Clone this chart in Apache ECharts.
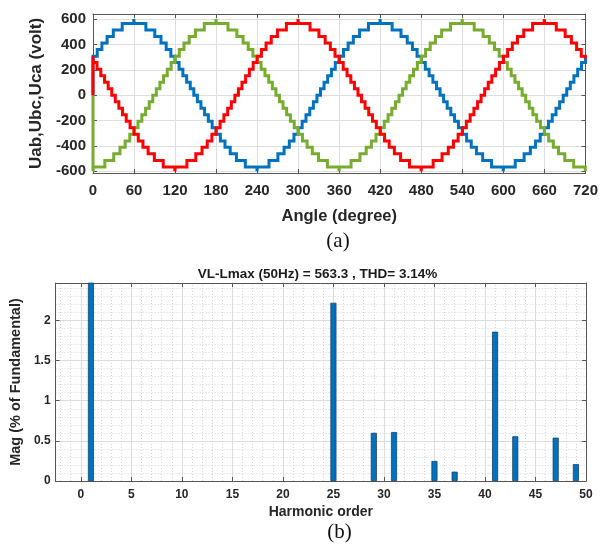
<!DOCTYPE html>
<html>
<head>
<meta charset="utf-8">
<script src="https://cdn.jsdelivr.net/npm/echarts@6/dist/echarts.min.js"></script>
<style>
html,body{margin:0;padding:0;background:#fff;}
#chart{width:601px;height:546px;}
</style>
</head>
<body>
<div id="chart"></div>
<script>
// ---------- Data: (a) line voltages, [angle (deg), volt] step points ----------
const uab = [[0,0],[0,308],[6.2,360],[13.0,411],[20.6,462],[29.7,514],[42.7,565],[59.7,600],[60.3,565],[77.3,514],[90.3,462],[99.4,411],[107.0,360],[113.8,308],[120.0,257],[125.8,205],[131.4,154],[136.9,103],[142.2,51],[147.4,0],[152.6,-51],[157.8,-103],[163.1,-154],[168.6,-205],[174.2,-257],[180.0,-308],[186.2,-360],[193.0,-411],[200.6,-462],[209.7,-514],[222.7,-565],[239.7,-600],[240.3,-565],[257.3,-514],[270.3,-462],[279.4,-411],[287.0,-360],[293.8,-308],[300.0,-257],[305.8,-205],[311.4,-154],[316.9,-103],[322.2,-51],[327.4,0],[332.6,51],[337.8,103],[343.1,154],[348.6,205],[354.2,257],[360.0,308],[366.2,360],[373.0,411],[380.6,462],[389.7,514],[402.7,565],[419.7,600],[420.3,565],[437.3,514],[450.3,462],[459.4,411],[467.0,360],[473.8,308],[480.0,257],[485.8,205],[491.4,154],[496.9,103],[502.2,51],[507.4,0],[512.6,-51],[517.8,-103],[523.1,-154],[528.6,-205],[534.2,-257],[540.0,-308],[546.2,-360],[553.0,-411],[560.6,-462],[569.7,-514],[582.7,-565],[599.7,-600],[600.3,-565],[617.3,-514],[630.3,-462],[639.4,-411],[647.0,-360],[653.8,-308],[660.0,-257],[665.8,-205],[671.4,-154],[676.9,-103],[682.2,-51],[687.4,0],[692.6,51],[697.8,103],[703.1,154],[708.6,205],[714.2,257],[720,308]];
const ubc = [[0,0],[0,-600],[0.6,-565],[17.3,-514],[30.3,-462],[39.4,-411],[47.0,-360],[53.8,-308],[60.0,-257],[65.8,-205],[71.4,-154],[76.9,-103],[82.2,-51],[87.4,0],[92.6,51],[97.8,103],[103.1,154],[108.6,205],[114.2,257],[120.0,308],[126.2,360],[133.0,411],[140.6,462],[149.7,514],[162.7,565],[179.7,600],[180.3,565],[197.3,514],[210.3,462],[219.4,411],[227.0,360],[233.8,308],[240.0,257],[245.8,205],[251.4,154],[256.9,103],[262.2,51],[267.4,0],[272.6,-51],[277.8,-103],[283.1,-154],[288.6,-205],[294.2,-257],[300.0,-308],[306.2,-360],[313.0,-411],[320.6,-462],[329.7,-514],[342.7,-565],[359.7,-600],[360.3,-565],[377.3,-514],[390.3,-462],[399.4,-411],[407.0,-360],[413.8,-308],[420.0,-257],[425.8,-205],[431.4,-154],[436.9,-103],[442.2,-51],[447.4,0],[452.6,51],[457.8,103],[463.1,154],[468.6,205],[474.2,257],[480.0,308],[486.2,360],[493.0,411],[500.6,462],[509.7,514],[522.7,565],[539.7,600],[540.3,565],[557.3,514],[570.3,462],[579.4,411],[587.0,360],[593.8,308],[600.0,257],[605.8,205],[611.4,154],[616.9,103],[622.2,51],[627.4,0],[632.6,-51],[637.8,-103],[643.1,-154],[648.6,-205],[654.2,-257],[660.0,-308],[666.2,-360],[673.0,-411],[680.6,-462],[689.7,-514],[702.7,-565],[719.7,-600],[720,-600]];
const uca = [[0,0],[0,308],[0.6,257],[5.8,205],[11.4,154],[16.9,103],[22.2,51],[27.4,0],[32.6,-51],[37.8,-103],[43.1,-154],[48.6,-205],[54.2,-257],[60.0,-308],[66.2,-360],[73.0,-411],[80.6,-462],[89.7,-514],[102.7,-565],[119.7,-600],[120.3,-565],[137.3,-514],[150.3,-462],[159.4,-411],[167.0,-360],[173.8,-308],[180.0,-257],[185.8,-205],[191.4,-154],[196.9,-103],[202.2,-51],[207.4,0],[212.6,51],[217.8,103],[223.1,154],[228.6,205],[234.2,257],[240.0,308],[246.2,360],[253.0,411],[260.6,462],[269.7,514],[282.7,565],[299.7,600],[300.3,565],[317.3,514],[330.3,462],[339.4,411],[347.0,360],[353.8,308],[360.0,257],[365.8,205],[371.4,154],[376.9,103],[382.2,51],[387.4,0],[392.6,-51],[397.8,-103],[403.1,-154],[408.6,-205],[414.2,-257],[420.0,-308],[426.2,-360],[433.0,-411],[440.6,-462],[449.7,-514],[462.7,-565],[479.7,-600],[480.3,-565],[497.3,-514],[510.3,-462],[519.4,-411],[527.0,-360],[533.8,-308],[540.0,-257],[545.8,-205],[551.4,-154],[556.9,-103],[562.2,-51],[567.4,0],[572.6,51],[577.8,103],[583.1,154],[588.6,205],[594.2,257],[600.0,308],[606.2,360],[613.0,411],[620.6,462],[629.7,514],[642.7,565],[659.7,600],[660.3,565],[677.3,514],[690.3,462],[699.4,411],[707.0,360],[713.8,308],[719.7,287],[720,287]];
const voltTicks = [-600,-400,-200,0,200,400,600];

// ---------- Data: (b) harmonic spectrum ----------
const harmonicOrder = [1,25,29,31,35,37,41,43,47,49];
const harmonicMag   = [100,2.22,0.60,0.61,0.25,0.116,1.86,0.557,0.54,0.21];
const harmonicTicks = [0,5,10,15,20,25,30,35,40,45,50];
const magTicks = [0,0.5,1,1.5,2];
const titleB = 'VL-Lmax (50Hz) = 563.3 , THD= 3.14%';

// ---------- helpers ----------
const SANS = '"Liberation Sans", Arial, Helvetica, sans-serif';
const TXT = '#262626';
const AX = '#555555';
const barData = harmonicOrder.map((h, i) => [h, harmonicMag[i]]);

const minorX = [];
for (let v = -2; v <= 49; v++) if (v % 5 !== 0) minorX.push({ xAxis: v });
const minorY = [];
for (let k = 1; k <= 24; k++) if (k % 5 !== 0) minorY.push({ yAxis: k / 10 });

const chart = echarts.init(document.getElementById('chart'), null, { renderer: 'canvas' });

const axisLineStyle = { show: true, onZero: false, lineStyle: { color: AX, width: 1 } };
const tickIn = { show: true, inside: true, length: 4, lineStyle: { color: AX } };

chart.setOption({
  animation: false,
  backgroundColor: '#ffffff',
  grid: [
    { left: 93, top: 14, right: 11, bottom: 373 },
    { left: 49, top: 283, right: 15, bottom: 65 }
  ],
  xAxis: [
    {
      gridIndex: 0, type: 'value', min: 0, max: 720, interval: 60, position: 'bottom',
      axisLine: axisLineStyle, axisTick: tickIn,
      axisLabel: { margin: 10, color: TXT, fontFamily: SANS, fontWeight: 'bold', fontSize: 15 },
      splitLine: { show: true, lineStyle: { color: '#dedede', width: 1 } },
      name: 'Angle (degree)', nameLocation: 'middle', nameGap: 35,
      nameTextStyle: { color: TXT, fontFamily: SANS, fontWeight: 'bold', fontSize: 16.5 }
    },
    {
      gridIndex: 0, type: 'value', min: 0, max: 720, interval: 60, position: 'top',
      axisLine: axisLineStyle, axisTick: tickIn, axisLabel: { show: false }, splitLine: { show: false }
    },
    {
      gridIndex: 1, type: 'value', min: -2.5, max: 50, position: 'bottom',
      axisLine: axisLineStyle,
      axisTick: { show: true, inside: true, length: 4, lineStyle: { color: AX }, customValues: harmonicTicks },
      axisLabel: { margin: 8, color: TXT, fontFamily: SANS, fontWeight: 'bold', fontSize: 12, customValues: harmonicTicks },
      splitLine: { show: true, lineStyle: { color: '#dcdcdc', width: 1 } },
      name: 'Harmonic order', nameLocation: 'middle', nameGap: 24,
      nameTextStyle: { color: TXT, fontFamily: SANS, fontWeight: 'bold', fontSize: 14 }
    },
    {
      gridIndex: 1, type: 'value', min: -2.5, max: 50, position: 'top',
      axisLine: axisLineStyle,
      axisTick: { show: true, inside: true, length: 4, lineStyle: { color: AX }, customValues: harmonicTicks },
      axisLabel: { show: false, customValues: harmonicTicks }, splitLine: { show: false }
    }
  ],
  yAxis: [
    {
      gridIndex: 0, type: 'value', min: -613, max: 640, position: 'left',
      axisLine: axisLineStyle,
      axisTick: { show: true, inside: true, length: 4, lineStyle: { color: AX }, customValues: voltTicks },
      axisLabel: { margin: 7, color: TXT, fontFamily: SANS, fontWeight: 'bold', fontSize: 15, customValues: voltTicks },
      splitLine: { show: true, lineStyle: { color: '#dedede', width: 1 } },
      name: 'Uab,Ubc,Uca (volt)', nameLocation: 'middle', nameGap: 44,
      nameTextStyle: { color: TXT, fontFamily: SANS, fontWeight: 'bold', fontSize: 17 }
    },
    {
      gridIndex: 0, type: 'value', min: -613, max: 640, position: 'right',
      axisLine: axisLineStyle,
      axisTick: { show: true, inside: true, length: 4, lineStyle: { color: AX }, customValues: voltTicks },
      axisLabel: { show: false, customValues: voltTicks }, splitLine: { show: false }
    },
    {
      gridIndex: 1, type: 'value', min: 0, max: 2.467, position: 'left',
      axisLine: axisLineStyle,
      axisTick: { show: true, inside: true, length: 4, lineStyle: { color: AX }, customValues: magTicks },
      axisLabel: { margin: 5, color: TXT, fontFamily: SANS, fontWeight: 'bold', fontSize: 12, customValues: magTicks },
      splitLine: { show: true, lineStyle: { color: '#dcdcdc', width: 1 } },
      name: 'Mag (% of Fundamental)', nameLocation: 'middle', nameGap: 22,
      nameTextStyle: { color: TXT, fontFamily: SANS, fontWeight: 'bold', fontSize: 14.5 }
    },
    {
      gridIndex: 1, type: 'value', min: 0, max: 2.467, position: 'right',
      axisLine: axisLineStyle,
      axisTick: { show: true, inside: true, length: 4, lineStyle: { color: AX }, customValues: magTicks },
      axisLabel: { show: false, customValues: magTicks }, splitLine: { show: false }
    }
  ],
  series: [
    {
      name: 'Uab', type: 'line', xAxisIndex: 0, yAxisIndex: 0, step: 'end', data: uab,
      showSymbol: false, symbol: 'none', clip: false,
      lineStyle: { color: '#0072BD', width: 3, join: 'miter' }, z: 3
    },
    {
      name: 'Ubc', type: 'line', xAxisIndex: 0, yAxisIndex: 0, step: 'end', data: ubc,
      showSymbol: false, symbol: 'none', clip: false,
      lineStyle: { color: '#77AC30', width: 3, join: 'miter' }, z: 4
    },
    {
      name: 'Uca', type: 'line', xAxisIndex: 0, yAxisIndex: 0, step: 'end', data: uca,
      showSymbol: false, symbol: 'none', clip: false,
      lineStyle: { color: '#FF0000', width: 3, join: 'miter' }, z: 5
    },
    {
      name: 'minorGrid', type: 'line', xAxisIndex: 2, yAxisIndex: 2, data: [], silent: true, z: 0,
      markLine: {
        silent: true, symbol: 'none', animation: false, z: 0, zlevel: 0,
        label: { show: false },
        lineStyle: { color: '#d6d6d6', width: 1, type: [1, 2] },
        emphasis: { disabled: true },
        data: minorX.concat(minorY)
      }
    },
    {
      name: 'Harmonics', type: 'bar', xAxisIndex: 2, yAxisIndex: 2, data: barData,
      barWidth: 6, clip: true, z: 10,
      itemStyle: { color: '#0072BD', borderColor: '#14375a', borderWidth: 0.7 }
    }
  ],
  graphic: [
    { type: 'text', x: 317.5, y: 274, style: { text: titleB, font: 'bold 13.5px ' + SANS, fill: '#1a1a1a', align: 'center', verticalAlign: 'middle', textAlign: 'center', textVerticalAlign: 'middle' } },
    { type: 'text', x: 338, y: 241, style: { text: '(a)', font: '21px "Liberation Serif", "Times New Roman", serif', fill: '#111', align: 'center', verticalAlign: 'middle', textAlign: 'center', textVerticalAlign: 'middle' } },
    { type: 'text', x: 339.5, y: 532, style: { text: '(b)', font: '21px "Liberation Serif", "Times New Roman", serif', fill: '#111', align: 'center', verticalAlign: 'middle', textAlign: 'center', textVerticalAlign: 'middle' } }
  ]
});
</script>
</body>
</html>
